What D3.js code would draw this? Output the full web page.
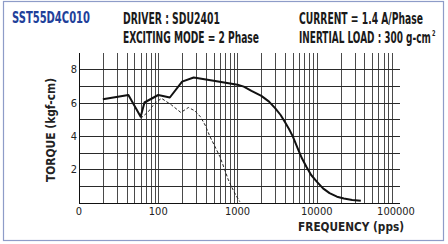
<!DOCTYPE html>
<html>
<head>
<meta charset="utf-8">
<script src="https://cdn.jsdelivr.net/npm/d3@7"></script>
<style>
  html, body { margin: 0; padding: 0; background: #fff; }
  svg { display: block; }
  text { font-family: "Liberation Sans Narrow", "DejaVu Sans Condensed", "Liberation Sans", sans-serif; }
</style>
</head>
<body>
<div id="chart"></div>
<script>
// Chart size
const width = 448;
const height = 244;

// Axis ticks
const freqTicks = [10, 100, 1000, 10000, 100000];
const freqTickLabels = ["0", "100", "1000", "10000", "100000"];
const torqueTicks = [2, 4, 6, 8];

// Pull-out torque (solid curve)
const solidFreq = [20, 42, 60, 67, 100, 140, 200, 280, 500, 1000, 1200, 1500, 2000, 2500, 3000, 3500, 4000,
  4500, 5000, 5800, 6500, 7400, 8500, 10000, 12000, 14500, 18000, 22000, 28000, 36000];
const solidTorque = [6.2, 6.45, 5.15, 6.0, 6.45, 6.3, 7.25, 7.5, 7.3, 7.07, 6.95, 6.7, 6.4, 6.05, 5.65, 5.25, 4.8,
  4.38, 3.95, 3.2, 2.65, 2.15, 1.65, 1.25, 0.85, 0.56, 0.35, 0.24, 0.15, 0.1];

// Pull-in torque (dashed curve)
const dashFreq = [60, 75, 90, 110, 147, 193, 240, 290, 340, 390, 450, 520, 600, 680, 760, 850, 950, 1070];
const dashTorque = [5.05, 5.45, 5.95, 6.25, 5.85, 5.4, 5.7, 5.5, 5.15, 4.65, 3.95, 3.35, 2.75, 2.05, 1.4, 0.9, 0.45, 0.05];

const svg = d3.select("#chart").append("svg")
  .attr("width", width)
  .attr("height", height);

// Outer frame
svg.append("rect")
  .attr("x", 3.5).attr("y", 1.5)
  .attr("width", 440).attr("height", 239)
  .attr("fill", "none")
  .attr("stroke", "#8e9cc8")
  .attr("stroke-width", 1.2);

// Scales
const x = d3.scaleLog().domain([10, 100000]).range([79, 396]);
const y = d3.scaleLinear().domain([0, 9]).range([202.5, 52.5]);
const gridRight = 400;

// Vertical grid: every 1..9 multiple of each decade
const vLines = [];
for (let p = 1; p <= 4; p++) {
  for (let m = 1; m <= 9; m++) {
    const v = m * Math.pow(10, p);
    if (v > 10 && v <= 100000) vLines.push(v);
  }
}

const grid = svg.append("g")
  .attr("stroke", "#2a2a2a")
  .attr("stroke-width", 1)
  .attr("shape-rendering", "crispEdges");

grid.selectAll("line.v")
  .data(vLines)
  .enter()
  .append("line")
  .attr("class", "v")
  .attr("x1", (d) => Math.round(x(d)) + 0.5)
  .attr("x2", (d) => Math.round(x(d)) + 0.5)
  .attr("y1", y(9))
  .attr("y2", y(0))
  .attr("stroke-opacity", 0.85);

grid.selectAll("line.h")
  .data(d3.range(1, 9))
  .enter()
  .append("line")
  .attr("class", "h")
  .attr("x1", x(10))
  .attr("x2", gridRight)
  .attr("y1", (d) => Math.round(y(d)) + 0.5)
  .attr("y2", (d) => Math.round(y(d)) + 0.5);

// Axis lines
grid.append("line")
  .attr("x1", x(10)).attr("x2", gridRight)
  .attr("y1", Math.round(y(0)) + 0.5).attr("y2", Math.round(y(0)) + 0.5)
  .attr("stroke", "#111");
grid.append("line")
  .attr("x1", Math.round(x(10)) + 0.5).attr("x2", Math.round(x(10)) + 0.5)
  .attr("y1", y(9)).attr("y2", y(0))
  .attr("stroke", "#111");

// Tick labels
svg.append("g")
  .selectAll("text")
  .data(freqTicks)
  .enter()
  .append("text")
  .attr("x", (d) => x(d))
  .attr("y", 214.5)
  .attr("text-anchor", "middle")
  .style("font-size", "11px")
  .attr("fill", "#222")
  .text((d, i) => freqTickLabels[i]);

svg.append("g")
  .selectAll("text")
  .data(torqueTicks)
  .enter()
  .append("text")
  .attr("x", 77)
  .attr("y", (d) => y(d) + 4)
  .attr("text-anchor", "end")
  .style("font-size", "11px")
  .attr("fill", "#222")
  .text((d) => d);

// Curves
const line = d3.line()
  .x((d) => x(d[0]))
  .y((d) => y(d[1]));

svg.append("path")
  .datum(d3.zip(dashFreq, dashTorque))
  .attr("d", line)
  .attr("fill", "none")
  .attr("stroke", "#222")
  .attr("stroke-width", 1)
  .attr("stroke-dasharray", "3,2");

svg.append("path")
  .datum(d3.zip(solidFreq, solidTorque))
  .attr("d", line)
  .attr("fill", "none")
  .attr("stroke", "#111")
  .attr("stroke-width", 2)
  .attr("stroke-linejoin", "round");

// Squeeze a text horizontally so it spans the target width (keeps its height)
function squeeze(g, target) {
  const t = g.select("text");
  const w = t.node().getComputedTextLength();
  const tx = +g.attr("data-x");
  const ty = +g.attr("data-y");
  const sx = w > 0 ? target / w : 1;
  g.attr("transform", `translate(${tx},${ty}) scale(${sx.toFixed(3)},1)`);
  return g;
}

function label(tx, ty, len, str, size, color, weight, anchor) {
  const g = svg.append("g").attr("data-x", tx).attr("data-y", ty);
  g.append("text")
    .attr("text-anchor", anchor || "start")
    .style("font-size", size + "px")
    .style("font-weight", weight)
    .attr("fill", color)
    .text(str);
  return squeeze(g, len);
}

// Axis titles
const yTitle = svg.append("g").attr("transform", "translate(55,130) rotate(-90)");
yTitle.append("text")
  .attr("text-anchor", "middle")
  .attr("textLength", 104)
  .attr("lengthAdjust", "spacingAndGlyphs")
  .style("font-size", "13px")
  .style("font-weight", "bold")
  .attr("fill", "#222")
  .text("TORQUE (kgf-cm)");

label(404, 231, 106, "FREQUENCY (pps)", 13, "#222", "bold", "end");

// Header texts
label(12, 23, 78, "SST55D4C010", 15, "#21409a", "bold");
label(123, 23.5, 97, "DRIVER : SDU2401", 15, "#1a1a1a", "bold");
label(123, 42.5, 136, "EXCITING MODE = 2 Phase", 15, "#1a1a1a", "bold");
label(299, 23.5, 124, "CURRENT = 1.4 A/Phase", 15, "#1a1a1a", "bold");
label(299, 42.5, 132, "INERTIAL LOAD : 300 g-cm", 15, "#1a1a1a", "bold");
label(432, 36, 3.5, "2", 8, "#1a1a1a", "bold");
</script>
</body>
</html>
